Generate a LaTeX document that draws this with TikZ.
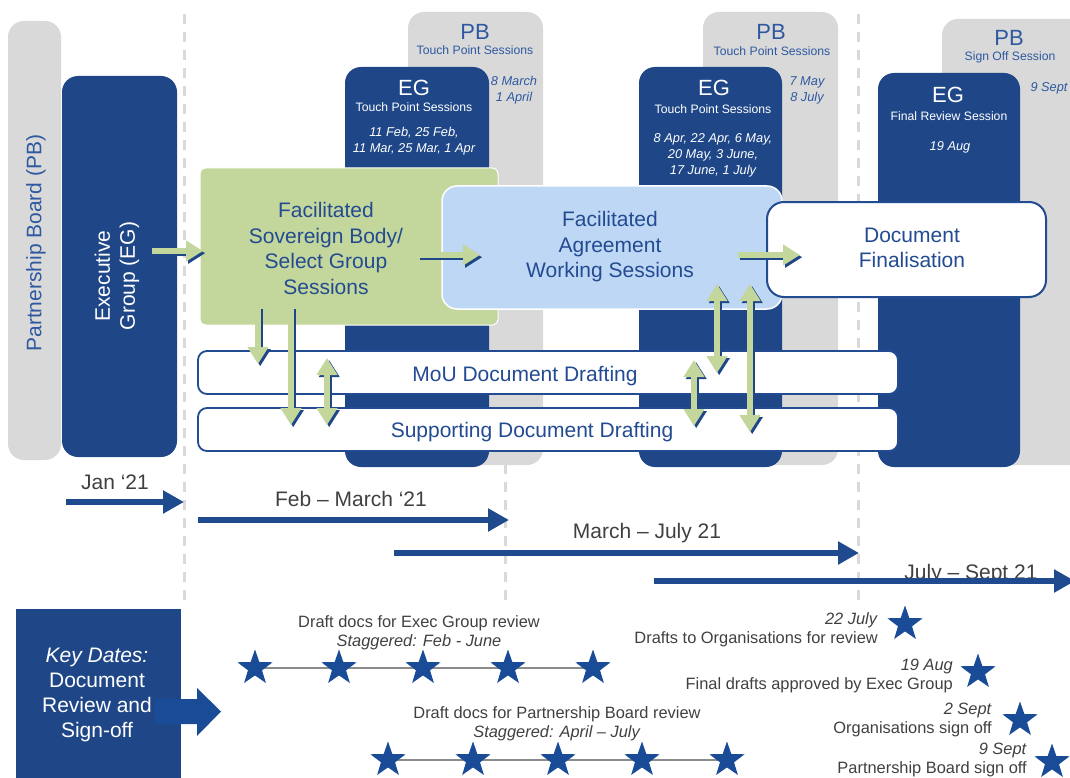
\documentclass[tikz,border=0pt]{standalone}
\usepackage{fontspec}
\setmainfont{Liberation Sans}
\usetikzlibrary{arrows.meta,shapes.geometric,backgrounds,calc}
\definecolor{dblue}{RGB}{31,71,136}
\definecolor{tblue}{RGB}{35,75,145}
\definecolor{pbblue}{RGB}{46,89,160}
\definecolor{lgray}{RGB}{217,217,217}
\definecolor{sgreen}{RGB}{195,214,155}
\definecolor{lblue}{RGB}{190,215,245}
\definecolor{tgray}{RGB}{64,64,64}
\definecolor{lineg}{RGB}{140,140,140}
\definecolor{arrblue}{RGB}{31,75,142}
\definecolor{sblue}{RGB}{25,75,150}
\newcommand\garr[3]{%
  \draw[gshadow,#3] (#1) -- (#2);
  \draw[gmain,#3] (#1) -- (#2);}
\begin{document}
\begin{tikzpicture}[x=1pt,y=-1pt,
  box/.style={inner sep=0pt, outer sep=0pt, anchor=north west},
  bigtxt/.style={font=\fontsize{21}{25.5}\selectfont, text=tblue, align=center, inner sep=0pt},
  wtxt/.style={font=\fontsize{21}{25}\selectfont, text=white, align=center, inner sep=0pt},
  hdtxt/.style={font=\fontsize{22}{24}\selectfont, inner sep=0pt},
  tptxt/.style={font=\fontsize{12.2}{15}\selectfont, inner sep=0pt},
  dttxt/.style={font=\fontsize{12.8}{16}\selectfont\itshape, align=center, inner sep=0pt},
  tltxt/.style={font=\fontsize{21}{25}\selectfont, text=tgray, inner sep=0pt},
  smtxt/.style={font=\fontsize{16.4}{19}\selectfont, text=tgray, inner sep=0pt},
  dashline/.style={draw=lgray, line width=3pt, dash pattern=on 10pt off 8pt},
  gmain/.style={draw=sgreen, line width=6pt},
  gshadow/.style={draw=dblue, line width=6pt, transform canvas={shift={(2.2pt,-2.2pt)}}},
  gtip/.style={-{Triangle[length=17pt,width=20pt]}},
  gdbl/.style={{Triangle[length=17pt,width=20pt]}-{Triangle[length=17pt,width=20pt]}},
  tarrow/.style={draw=arrblue, line width=6.5pt, -{Triangle[length=21pt,width=22pt]}},
  star5/.style={star, star points=5, star point ratio=2.5, fill=sblue, draw=none, minimum size=37pt, inner sep=0pt, outer sep=0pt},
  starline/.style={draw=lineg, line width=2.5pt}
]
\useasboundingbox (0,0) rectangle (1070,778);
\clip (0,0) rectangle (1070,778);

% dashed dividers
\draw[dashline] (184,14) -- (184,606);
\draw[dashline] (505,14) -- (505,606);
\draw[dashline] (858,14) -- (858,606);

% PB and EG session columns
\node[box, fill=lgray, rounded corners=16pt, minimum width=135pt, minimum height=453pt] (pb1) at (408,12) {};
\node[box, fill=lgray, rounded corners=16pt, minimum width=135pt, minimum height=453pt] (pb2) at (703,12) {};
\node[box, fill=lgray, rounded corners=16pt, minimum width=160pt, minimum height=446pt] (pb3) at (942,19) {};
\node[box, fill=dblue, rounded corners=16pt, minimum width=144pt, minimum height=400pt] (eg1) at (345,67) {};
\node[box, fill=dblue, rounded corners=16pt, minimum width=143pt, minimum height=400pt] (eg2) at (639,67) {};
\node[box, fill=dblue, rounded corners=16pt, minimum width=142pt, minimum height=394pt] (eg3) at (878,73) {};

% column texts
\node[hdtxt, text=pbblue] (pb1h) at (475,32) {PB};
\node[tptxt, text=pbblue] (pb1s) at (475,50) {Touch Point Sessions};
\node[dttxt, text=pbblue] (pb1d) at (514,90) {8 March\\1 April};
\node[hdtxt, text=white] (eg1h) at (414,88) {EG};
\node[tptxt, text=white] (eg1s) at (414,107) {Touch Point Sessions};
\node[dttxt, text=white] (eg1d) at (414,141.5) {11 Feb, 25 Feb,\\11 Mar, 25 Mar, 1 Apr};

\node[hdtxt, text=pbblue] (pb2h) at (771,32) {PB};
\node[tptxt, text=pbblue] (pb2s) at (772,51) {Touch Point Sessions};
\node[dttxt, text=pbblue] (pb2d) at (807,90) {7 May\\8 July};
\node[hdtxt, text=white] (eg2h) at (714,88) {EG};
\node[tptxt, text=white] (eg2s) at (713,109) {Touch Point Sessions};
\node[dttxt, text=white] (eg2d) at (713,155) {8 Apr, 22 Apr, 6 May,\\20 May, 3 June,\\17 June, 1 July};

\node[hdtxt, text=pbblue] (pb3h) at (1009,38) {PB};
\node[tptxt, text=pbblue] (pb3s) at (1010,57) {Sign Off Session};
\node[dttxt, text=pbblue] (pb3d) at (1049,88) {9 Sept};
\node[hdtxt, text=white] (eg3h) at (948,95) {EG};
\node[tptxt, text=white] (eg3s) at (949,116) {Final Review Session};
\node[dttxt, text=white] (eg3d) at (950,147) {19 Aug};

% left bars
\node[box, fill=lgray, rounded corners=16pt, minimum width=53pt, minimum height=439pt] (pbbar) at (8,21) {};
\node[box, fill=dblue, rounded corners=16pt, minimum width=115pt, minimum height=381pt] (egbar) at (62,76) {};
\node[bigtxt, text=pbblue, rotate=90] (pbbart) at (36,243) {Partnership Board (PB)};
\node[wtxt, rotate=90] (egbart) at (117,276) {Executive\\Group (EG)};

% process boxes
\node[box, fill=sgreen, draw=white, line width=1pt, rounded corners=6pt, minimum width=298pt, minimum height=157pt] (green) at (200,168) {};
\node[bigtxt] (greent) at (326,248.5) {Facilitated\\Sovereign Body/\\Select Group\\Sessions};
\node[box, fill=lblue, draw=white, line width=1.5pt, rounded corners=15pt, minimum width=340pt, minimum height=123pt] (blue) at (442,186) {};
\node[bigtxt] (bluet) at (610,247) {Facilitated\\Agreement\\Working Sessions};
\node[box, fill=white, draw=tblue, line width=2pt, rounded corners=17pt, minimum width=279pt, minimum height=95pt] (docfin) at (767,202) {};
\node[bigtxt] (docfint) at (912,248) {Document\\Finalisation};

\node[box, fill=white, draw=tblue, line width=1.8pt, rounded corners=9pt, minimum width=700pt, minimum height=43pt] (mou) at (198,351) {};
\node[bigtxt] (mout) at (525,376) {MoU Document Drafting};
\node[box, fill=white, draw=tblue, line width=1.8pt, rounded corners=9pt, minimum width=700pt, minimum height=43pt] (supp) at (198,408) {};
\node[bigtxt] (suppt) at (532,432) {Supporting Document Drafting};

% green arrows
\coordinate (a1s) at (152,251); \coordinate (a1e) at (203,251);
\coordinate (a2s) at (418,255); \coordinate (a2e) at (480,255);
\coordinate (a3s) at (738,255); \coordinate (a3e) at (800,255);
\coordinate (d1s) at (258,307); \coordinate (d1e) at (258,364);
\coordinate (d2s) at (291,307); \coordinate (d2e) at (291,425);
\coordinate (b1s) at (327,358); \coordinate (b1e) at (327,425);
\coordinate (b2s) at (717,284); \coordinate (b2e) at (717,373);
\coordinate (b3s) at (750,284); \coordinate (b3e) at (750,432);
\coordinate (b4s) at (694,360); \coordinate (b4e) at (694,426);
\garr{a1s}{a1e}{gtip}
\garr{a2s}{a2e}{gtip}
\garr{a3s}{a3e}{gtip}
\garr{d1s}{d1e}{gtip}
\garr{d2s}{d2e}{gtip}
\garr{b1s}{b1e}{gdbl}
\garr{b2s}{b2e}{gdbl}
\garr{b3s}{b3e}{gdbl}
\garr{b4s}{b4e}{gdbl}

% timeline
\node[tltxt] (tl1) at (115,482) {Jan ‘21};
\node[tltxt] (tl2) at (351,499) {Feb – March ‘21};
\node[tltxt] (tl3) at (647,533) {March – July 21};
\node[tltxt] (tl4) at (971,574) {July – Sept 21};
\coordinate (t1s) at (66,502);  \coordinate (t1e) at (184,502);
\coordinate (t2s) at (198,520); \coordinate (t2e) at (509,520);
\coordinate (t3s) at (394,553); \coordinate (t3e) at (859,553);
\coordinate (t4s) at (654,581); \coordinate (t4e) at (1075,581);
\draw[tarrow] (t1s) -- (t1e);
\draw[tarrow] (t2s) -- (t2e);
\draw[tarrow] (t3s) -- (t3e);
\draw[tarrow] (t4s) -- (t4e);

% key dates
\node[box, fill=dblue, minimum width=165pt, minimum height=175pt] (key) at (16,609) {};
\node[wtxt] (keyt) at (97,694.5) {\textit{Key Dates:}\\Document\\Review and\\Sign-off};
\fill[sblue] (155,699) -- (197,699) -- (197,688) -- (221,711.5) -- (197,736) -- (197,724) -- (155,724) -- cycle;

% star rows
\node[smtxt, align=center] (r1t) at (419,632.5) {Draft docs for Exec Group review\\\textit{Staggered: Feb - June}};
\node[star5] (s11) at (255,668) {};
\node[star5] (s12) at (339,668) {};
\node[star5] (s13) at (423,668) {};
\node[star5] (s14) at (508,668) {};
\node[star5] (s15) at (593,668) {};
\node[smtxt, align=center] (r2t) at (557,723.5) {Draft docs for Partnership Board review\\\textit{Staggered: April – July}};
\node[star5] (s21) at (388,760) {};
\node[star5] (s22) at (473,760) {};
\node[star5] (s23) at (558,760) {};
\node[star5] (s24) at (642,760) {};
\node[star5] (s25) at (727,760) {};
\begin{pgfonlayer}{background}
\draw[starline] (s11.center) -- (s15.center);
\draw[starline] (s21.center) -- (s25.center);
\end{pgfonlayer}

% milestones
\node[star5] (m1) at (905,624) {};
\node[star5] (m2) at (978,672) {};
\node[star5] (m3) at (1020,720) {};
\node[star5] (m4) at (1052,762) {};
\node[smtxt, align=right, anchor=east] (m1t) at (878,629.5) {\textit{22 July}\\Drafts to Organisations for review};
\node[smtxt, align=right, anchor=east] (m2t) at (953,675.5) {\textit{19 Aug}\\Final drafts approved by Exec Group};
\node[smtxt, align=right, anchor=east] (m3t) at (992,720) {\textit{2 Sept}\\Organisations sign off};
\node[smtxt, align=right, anchor=east] (m4t) at (1027,759.5) {\textit{9 Sept}\\Partnership Board sign off};
\end{tikzpicture}
\end{document}
